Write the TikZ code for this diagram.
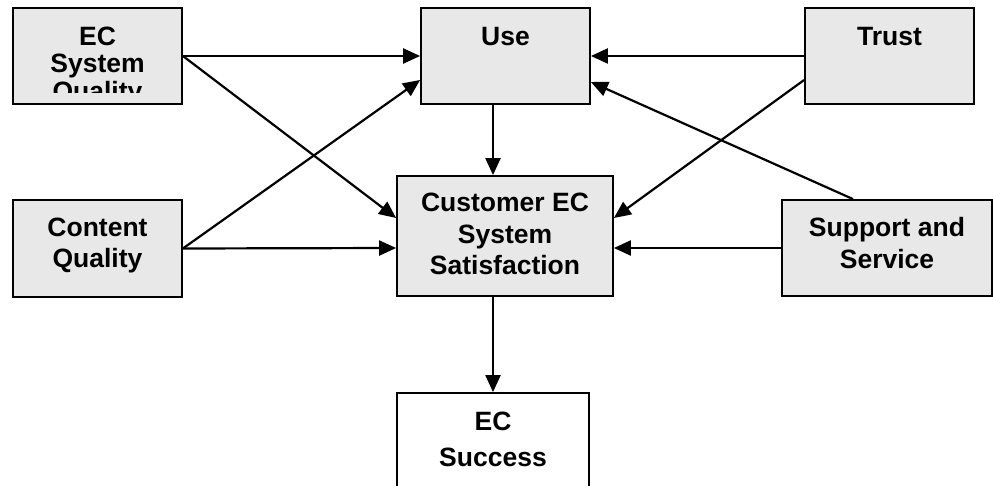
\documentclass[tikz,border=0pt]{standalone}
\usepackage{fontspec}
\setmainfont{Liberation Sans}
\usetikzlibrary{arrows.meta}

\begin{document}
\begin{tikzpicture}[x=1pt, y=-1pt,
  box/.style={draw=black, line width=1.8pt, fill=gray!18, inner sep=0pt},
  whitebox/.style={box, fill=white},
  txt/.style={align=center, inner sep=0pt, text depth=0pt,
    font=\fontsize{26.5}{31.5}\selectfont\bfseries},
  link/.style={line width=2.2pt, -{Triangle[length=17pt, width=15pt]}}
]
\useasboundingbox (0,0) rectangle (993,486);
\clip (0,0) rectangle (993,486);

% boxes
\node[box, minimum width=169pt, minimum height=96pt]  (ecsq)    at (97.5,56)  {};
\node[box, minimum width=169pt, minimum height=96pt]  (use)     at (505.5,56) {};
\node[box, minimum width=169pt, minimum height=96pt]  (trust)   at (889.5,56) {};
\node[box, minimum width=169pt, minimum height=97pt]  (content) at (97.5,248.5) {};
\node[box, minimum width=216pt, minimum height=120pt] (cust)    at (505,236)  {};
\node[box, minimum width=210pt, minimum height=96pt]  (supp)    at (887,248)  {};
\node[whitebox, minimum width=192pt, minimum height=100pt] (succ) at (493,443) {};

% labels
\begin{scope}
  \clip (13,8) rectangle (182,93);
  \node[txt] (ecsqtxt) at (97.5,63.5) {EC\\[-4pt]System\\[-4pt]Quality};
\end{scope}
\node[txt] (usetxt)     at (505.5,36) {Use};
\node[txt] (trusttxt)   at (889.5,36) {Trust};
\node[txt] (contenttxt) at (97.5,242.5) {Content\\Quality};
\node[txt] (custtxt)    at (505,234) {Customer EC\\System\\Satisfaction};
\node[txt] (supptxt)    at (887,243) {Support and\\Service};
\node[txt] (succtxt)    at (493,439) {EC\\[4.5pt]Success};

% connectors
\draw[link] (ecsq.east) -- (use.west);
\draw[link] (ecsq.east) -- ([yshift=18pt]cust.west);
\draw[link] (content.east) -- ([yshift=-24pt]use.west);
\draw[link] (content.east) -- ([yshift=-12pt]cust.west);
\draw[link] ([xshift=-12.5pt]use.south) -- ([xshift=-12pt]cust.north);
\draw[link] ([xshift=-12pt]cust.south) -- (succ.north);
\draw[link] (trust.west) -- (use.east);
\draw[link] ([yshift=-24pt]trust.west) -- ([yshift=18pt]cust.east);
\draw[link] ([xshift=-34pt]supp.north) -- ([yshift=-26pt]use.east);
\draw[link] (supp.west) -- ([yshift=-12pt]cust.east);
\end{tikzpicture}
\end{document}
